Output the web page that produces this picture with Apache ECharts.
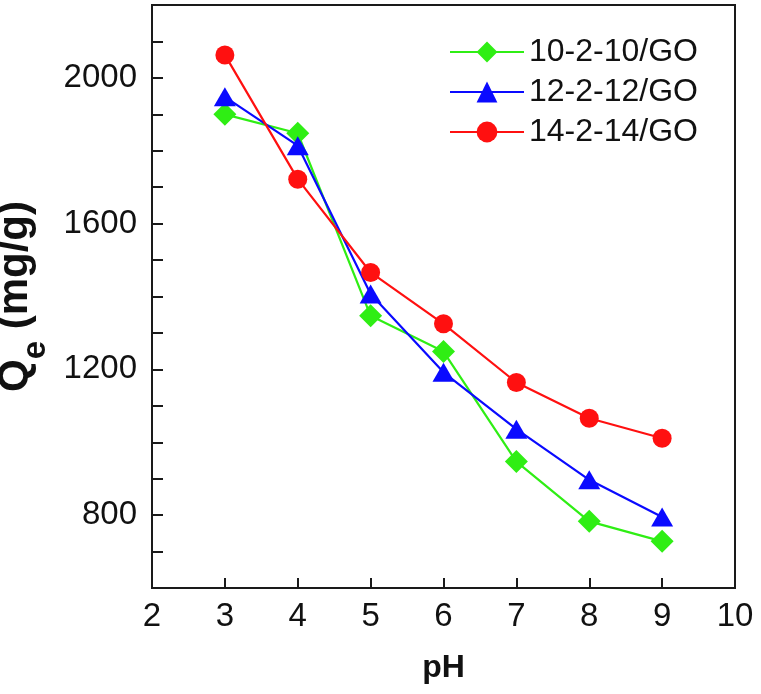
<!DOCTYPE html>
<html>
<head>
<meta charset="utf-8">
<script src="https://cdn.jsdelivr.net/npm/echarts@6/dist/echarts.min.js"></script>
<style>
html,body{margin:0;padding:0;background:#fff;}
#chart{width:761px;height:694px;}
</style>
</head>
<body>
<div id="chart"></div>
<script>
var pH = [3, 4, 5, 6, 7, 8, 9];
var seriesNames = ['10-2-10/GO', '12-2-12/GO', '14-2-14/GO'];
var q10 = [1900, 1848, 1347, 1249, 947, 783, 728];
var q12 = [1948, 1814, 1407, 1192, 1036, 897, 795];
var q14 = [2063, 1722, 1466, 1325, 1164, 1066, 1011];
var yLabelValues = [800, 1200, 1600, 2000];
var xTicks = [2, 3, 4, 5, 6, 7, 8, 9, 10];

function pairs(xs, ys) { return xs.map(function (x, i) { return [x, ys[i]]; }); }

var chart = echarts.init(document.getElementById('chart'), null, {renderer: 'canvas'});
var font = 'Liberation Sans, Arial, Helvetica, sans-serif';
var colors = ['#2fee14', '#0a0aff', '#ff1010'];
var symbols = ['diamond', 'triangle', 'circle'];
var sizes = [[23, 23], [22, 19], [19, 19]];
var datas = [q10, q12, q14];

chart.setOption({
  animation: false,
  backgroundColor: '#fff',
  grid: {left: 152, right: 26, top: 5, bottom: 106, show: true, borderColor: '#1a1a1a', borderWidth: 2,
         containLabel: false, outerBoundsMode: 'none'},
  legend: {
    orient: 'vertical', left: 444, top: 31,
    itemWidth: 74, itemHeight: 26, itemGap: 8,
    textStyle: {fontFamily: font, fontSize: 32, color: '#111', lineHeight: 31},
    data: seriesNames
  },
  xAxis: {
    type: 'value', min: xTicks[0], max: xTicks[xTicks.length - 1], interval: 1,
    name: 'pH', nameLocation: 'middle', nameGap: 64,
    nameTextStyle: {fontFamily: font, fontSize: 32, fontWeight: 'bold', color: '#111'},
    axisLine: {show: true, lineStyle: {color: '#1a1a1a', width: 2}},
    axisTick: {show: true, inside: true, length: 10, lineStyle: {color: '#1a1a1a', width: 2}},
    axisLabel: {fontFamily: font, fontSize: 33, color: '#111', margin: 12, showMaxLabel: true, showMinLabel: true},
    splitLine: {show: false}
  },
  yAxis: {
    type: 'value', min: 600, max: 2200, interval: 100,
    name: '{q|Q}{e|e}{q| (mg/g)}', nameLocation: 'middle', nameGap: 79, nameRotate: 90,
    nameTextStyle: {
      rich: {
        q: {fontFamily: font, fontSize: 42, fontWeight: 'bold', color: '#111', lineHeight: 46, verticalAlign: 'top'},
        e: {fontFamily: font, fontSize: 33, fontWeight: 'bold', color: '#111', lineHeight: 58, verticalAlign: 'bottom'}
      }
    },
    axisLine: {show: true, lineStyle: {color: '#1a1a1a', width: 2}},
    axisTick: {show: true, inside: true, length: 11, lineStyle: {color: '#1a1a1a', width: 2}},
    axisLabel: {
      fontFamily: font, fontSize: 33, color: '#111', margin: 15,
      formatter: function (v) { return yLabelValues.indexOf(v) >= 0 ? String(v) : ''; }
    },
    splitLine: {show: false}
  },
  series: seriesNames.map(function (name, i) {
    return {
      name: name, type: 'line', data: pairs(pH, datas[i]),
      symbol: symbols[i], symbolSize: sizes[i], showAllSymbol: true,
      lineStyle: {color: colors[i], width: 2.2},
      itemStyle: {color: colors[i]},
      z: 2 + i
    };
  })
});
</script>
</body>
</html>
